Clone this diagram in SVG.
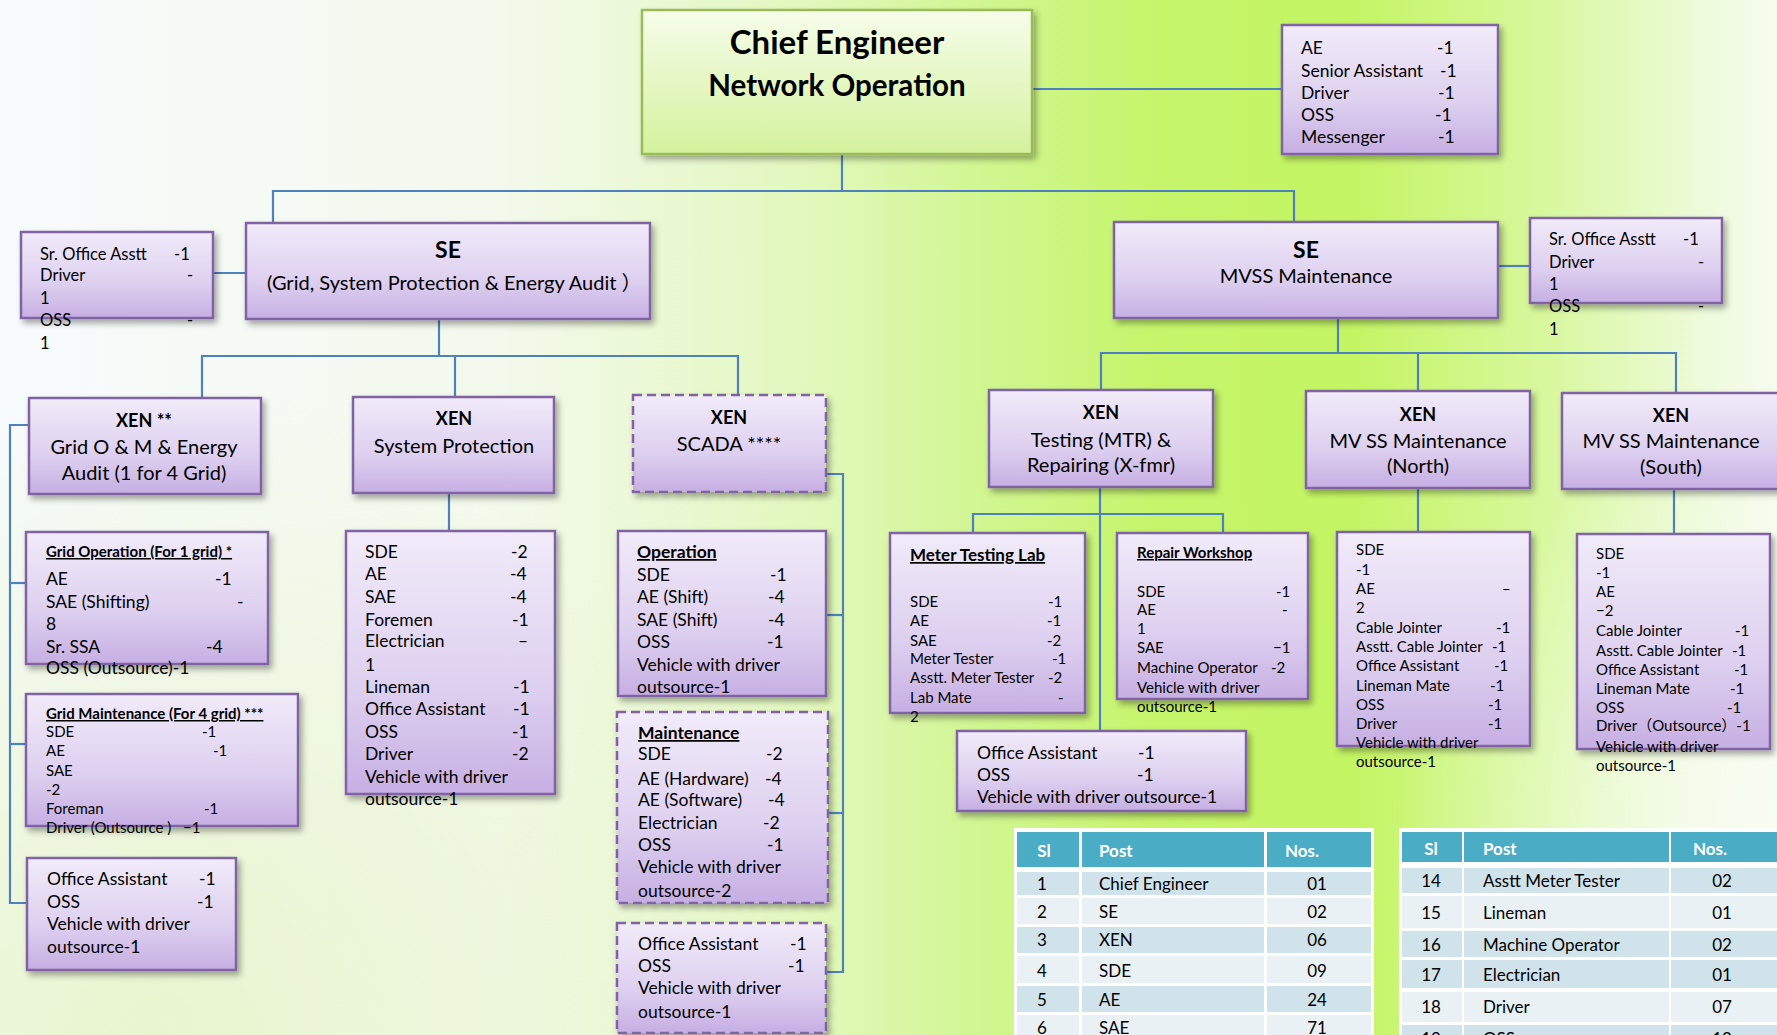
<svg xmlns="http://www.w3.org/2000/svg" width="1777" height="1035" viewBox="0 0 1777 1035">
<defs>
<linearGradient id="bg" x1="0" y1="0" x2="1777" y2="0" gradientUnits="userSpaceOnUse">
<stop offset="0" stop-color="#f7fbfd"/>
<stop offset="0.28" stop-color="#f3f9ec"/>
<stop offset="0.45" stop-color="#e3f8bf"/>
<stop offset="0.56" stop-color="#d0f68e"/>
<stop offset="0.65" stop-color="#c6f56b"/>
<stop offset="0.76" stop-color="#c4f563"/>
<stop offset="0.87" stop-color="#d8f89e"/>
<stop offset="0.96" stop-color="#eefbdc"/>
<stop offset="1" stop-color="#f6fcef"/>
</linearGradient>
<radialGradient id="bl" cx="150" cy="1035" r="650" gradientUnits="userSpaceOnUse">
<stop offset="0" stop-color="#e6f4c6" stop-opacity="0.85"/>
<stop offset="1" stop-color="#e6f4c6" stop-opacity="0"/>
</radialGradient>
<radialGradient id="br" cx="1777" cy="820" r="380" gradientUnits="userSpaceOnUse">
<stop offset="0" stop-color="#f8fcf2" stop-opacity="0.9"/>
<stop offset="1" stop-color="#f8fcf2" stop-opacity="0"/>
</radialGradient>
<linearGradient id="pg" x1="0" y1="0" x2="0" y2="1">
<stop offset="0" stop-color="#f1ebf9"/>
<stop offset="0.6" stop-color="#ddd0ef"/>
<stop offset="1" stop-color="#c6afe3"/>
</linearGradient>
<linearGradient id="gg" x1="0" y1="0" x2="0" y2="1">
<stop offset="0" stop-color="#f6fdeb"/>
<stop offset="1" stop-color="#d4f29c"/>
</linearGradient>
<filter id="sh" x="-10%" y="-10%" width="130%" height="140%">
<feDropShadow dx="3" dy="4" stdDeviation="3" flood-color="#000" flood-opacity="0.35"/>
</filter>
<style>
text{font-family:Lato,"Liberation Sans","Noto Sans CJK SC",sans-serif;fill:#000}
.b{font-weight:bold}
.u{text-decoration:underline}
.m{text-anchor:middle}
.box{fill:url(#pg);stroke:#8064a2;stroke-width:2.5;filter:url(#sh)}
.dash{stroke-dasharray:9 5}
.ce{fill:url(#gg);stroke:#9bbb59;stroke-width:2.5;filter:url(#sh)}
.c{stroke:#4f81bd;stroke-width:2.2;fill:none}
.th{fill:#4bacc6}
.rd{fill:#d0e3ea}
.rl{fill:#e9f1f5}
.tw{fill:#fff;font-weight:bold}
.s15{font-size:15px}
.s16{font-size:16.5px}
.s17{font-size:17.5px}
.s20{font-size:20px}
</style>
</defs>
<rect x="0" y="0" width="1777" height="1035" fill="url(#bg)"/>
<rect x="0" y="0" width="1777" height="1035" fill="url(#bl)"/>
<rect x="0" y="0" width="1777" height="1035" fill="url(#br)"/>

<g id="connectors">
<polyline class="c" points="1032,89 1282,89"/>
<polyline class="c" points="842,154 842,191"/>
<polyline class="c" points="273,223 273,191 1294,191 1294,222"/>
<polyline class="c" points="213,273 246,273"/>
<polyline class="c" points="439,319 439,356"/>
<polyline class="c" points="202,398 202,356 738,356 738,395"/>
<polyline class="c" points="455,356 455,397"/>
<polyline class="c" points="29,425 10,425 10,903 27,903"/>
<polyline class="c" points="10,583 26,583"/>
<polyline class="c" points="10,744 26,744"/>
<polyline class="c" points="449,493 449,531"/>
<polyline class="c" points="826,474 843,474 843,972 826,972"/>
<polyline class="c" points="826,615 843,615"/>
<polyline class="c" points="828,813 843,813"/>
<polyline class="c" points="1498,266 1530,266"/>
<polyline class="c" points="1338,318 1338,353"/>
<polyline class="c" points="1101,390 1101,353 1676,353 1676,393"/>
<polyline class="c" points="1418,353 1418,391"/>
<polyline class="c" points="1100,487 1100,731"/>
<polyline class="c" points="973,533 973,514 1223,514 1223,533"/>
<polyline class="c" points="1418,488 1418,532"/>
<polyline class="c" points="1674,489 1674,534"/>
</g>

<g id="chief-engineer">
<rect class="ce" x="642" y="10" width="390" height="144"/>
<text class="b m" x="837" y="54" font-size="33">Chief Engineer</text>
<text class="b m" x="837" y="96" font-size="29.5">Network Operation</text>
</g>

<g id="ce-staff" class="s17">
<rect class="box" x="1282" y="25" width="216" height="129"/>
<text x="1301" y="54">AE<tspan x="1437">-1</tspan></text>
<text x="1301" y="77">Senior Assistant<tspan x="1440">-1</tspan></text>
<text x="1301" y="99">Driver<tspan x="1438">-1</tspan></text>
<text x="1301" y="121">OSS<tspan x="1435">-1</tspan></text>
<text x="1301" y="143">Messenger<tspan x="1438">-1</tspan></text>
</g>

<g id="se-grid">
<rect class="box" x="246" y="223" width="404" height="96"/>
<text class="b m" x="448" y="258" font-size="23">SE</text>
<text x="267" y="290" class="s20">(Grid, System Protection &amp; Energy Audit ）</text>
</g>

<g id="se-grid-staff" class="s16">
<rect class="box" x="21" y="232" width="192" height="86"/>
<text x="40" y="260">Sr. Office Asstt<tspan x="174">-1</tspan></text>
<text x="40" y="281">Driver<tspan x="187">-</tspan></text>
<text x="40" y="304">1</text>
<text x="40" y="326">OSS<tspan x="187">-</tspan></text>
<text x="40" y="349">1</text>
</g>

<g id="xen-grid">
<rect class="box" x="29" y="398" width="232" height="96"/>
<text class="b m" x="144" y="427" font-size="18">XEN **</text>
<text class="m s20" x="144" y="454">Grid O &amp; M &amp; Energy</text>
<text class="m s20" x="144" y="480">Audit (1 for 4 Grid)</text>
</g>

<g id="xen-sysprot">
<rect class="box" x="353" y="397" width="201" height="96"/>
<text class="b m" x="454" y="425" font-size="18">XEN</text>
<text class="m s20" x="454" y="453">System Protection</text>
</g>

<g id="xen-scada">
<rect class="box dash" x="633" y="395" width="193" height="97"/>
<text class="b m" x="729" y="424" font-size="18">XEN</text>
<text class="m s20" x="729" y="451">SCADA ****</text>
</g>

<g id="grid-operation" class="s17">
<rect class="box" x="26" y="532" width="242" height="132"/>
<text class="b u s15" x="46" y="557">Grid Operation (For 1 grid) *</text>
<text x="46" y="585">AE<tspan x="215">-1</tspan></text>
<text x="46" y="608">SAE (Shifting)<tspan x="237">-</tspan></text>
<text x="46" y="630">8</text>
<text x="46" y="653">Sr. SSA<tspan x="206">-4</tspan></text>
<text x="46" y="674">OSS (Outsource)-1</text>
</g>

<g id="grid-maintenance" class="s15">
<rect class="box" x="26" y="694" width="272" height="132"/>
<text class="b u" x="46" y="719">Grid Maintenance (For 4 grid) ***</text>
<text x="46" y="737">SDE<tspan x="202">-1</tspan></text>
<text x="46" y="756">AE<tspan x="213">-1</tspan></text>
<text x="46" y="776">SAE</text>
<text x="46" y="795">-2</text>
<text x="46" y="814">Foreman<tspan x="204">-1</tspan></text>
<text x="46" y="833">Driver (Outsource )<tspan x="183">−1</tspan></text>
</g>

<g id="grid-office" class="s17">
<rect class="box" x="27" y="858" width="209" height="112"/>
<text x="47" y="885">Office Assistant<tspan x="199">-1</tspan></text>
<text x="47" y="908">OSS<tspan x="197">-1</tspan></text>
<text x="47" y="930">Vehicle with driver</text>
<text x="47" y="953">outsource-1</text>
</g>

<g id="sysprot-staff" class="s17">
<rect class="box" x="346" y="531" width="209" height="263"/>
<text x="365" y="558">SDE<tspan x="511">-2</tspan></text>
<text x="365" y="580">AE<tspan x="510">-4</tspan></text>
<text x="365" y="603">SAE<tspan x="510">-4</tspan></text>
<text x="365" y="626">Foremen<tspan x="512">-1</tspan></text>
<text x="365" y="647">Electrician<tspan x="518">–</tspan></text>
<text x="365" y="671">1</text>
<text x="365" y="693">Lineman<tspan x="513">-1</tspan></text>
<text x="365" y="715">Office Assistant<tspan x="513">-1</tspan></text>
<text x="365" y="738">OSS<tspan x="512">-1</tspan></text>
<text x="365" y="760">Driver<tspan x="512">-2</tspan></text>
<text x="365" y="783">Vehicle with driver</text>
<text x="365" y="805">outsource-1</text>
</g>

<g id="scada-operation" class="s17">
<rect class="box" x="618" y="531" width="208" height="165"/>
<text class="b u" x="637" y="558">Operation</text>
<text x="637" y="581">SDE<tspan x="770">-1</tspan></text>
<text x="637" y="603">AE (Shift)<tspan x="768">-4</tspan></text>
<text x="637" y="626">SAE (Shift)<tspan x="768">-4</tspan></text>
<text x="637" y="648">OSS<tspan x="767">-1</tspan></text>
<text x="637" y="671">Vehicle with driver</text>
<text x="637" y="693">outsource-1</text>
</g>

<g id="scada-maintenance" class="s17">
<rect class="box dash" x="617" y="712" width="211" height="191"/>
<text class="b u" x="638" y="739">Maintenance</text>
<text x="638" y="760">SDE<tspan x="766">-2</tspan></text>
<text x="638" y="785">AE (Hardware)<tspan x="765">-4</tspan></text>
<text x="638" y="806">AE (Software)<tspan x="768">-4</tspan></text>
<text x="638" y="829">Electrician<tspan x="763">-2</tspan></text>
<text x="638" y="851">OSS<tspan x="767">-1</tspan></text>
<text x="638" y="873">Vehicle with driver</text>
<text x="638" y="897">outsource-2</text>
</g>

<g id="scada-office" class="s17">
<rect class="box dash" x="617" y="923" width="209" height="110"/>
<text x="638" y="950">Office Assistant<tspan x="790">-1</tspan></text>
<text x="638" y="972">OSS<tspan x="788">-1</tspan></text>
<text x="638" y="994">Vehicle with driver</text>
<text x="638" y="1018">outsource-1</text>
</g>

<g id="se-mvss">
<rect class="box" x="1114" y="222" width="384" height="96"/>
<text class="b m" x="1306" y="258" font-size="23">SE</text>
<text class="m s20" x="1306" y="283">MVSS Maintenance</text>
</g>

<g id="se-mvss-staff" class="s16">
<rect class="box" x="1530" y="218" width="192" height="85"/>
<text x="1549" y="245">Sr. Office Asstt<tspan x="1683">-1</tspan></text>
<text x="1549" y="268">Driver<tspan x="1698">-</tspan></text>
<text x="1549" y="290">1</text>
<text x="1549" y="312">OSS<tspan x="1698">-</tspan></text>
<text x="1549" y="335">1</text>
</g>

<g id="xen-testing">
<rect class="box" x="989" y="390" width="224" height="97"/>
<text class="b m" x="1101" y="419" font-size="18">XEN</text>
<text class="m s20" x="1101" y="447">Testing (MTR) &amp;</text>
<text class="m s20" x="1101" y="472">Repairing (X-fmr)</text>
</g>

<g id="xen-north">
<rect class="box" x="1306" y="391" width="224" height="97"/>
<text class="b m" x="1418" y="421" font-size="18">XEN</text>
<text class="m s20" x="1418" y="448">MV SS Maintenance</text>
<text class="m s20" x="1418" y="473">(North)</text>
</g>

<g id="xen-south">
<rect class="box" x="1562" y="393" width="230" height="96"/>
<text class="b m" x="1671" y="422" font-size="18">XEN</text>
<text class="m s20" x="1671" y="448">MV SS Maintenance</text>
<text class="m s20" x="1671" y="474">(South)</text>
</g>

<g id="meter-testing-lab" class="s15">
<rect class="box" x="890" y="533" width="195" height="180"/>
<text class="b u" x="910" y="561" font-size="17">Meter Testing Lab</text>
<text x="910" y="607">SDE<tspan x="1048">-1</tspan></text>
<text x="910" y="626">AE<tspan x="1047">-1</tspan></text>
<text x="910" y="646">SAE<tspan x="1047">-2</tspan></text>
<text x="910" y="664">Meter Tester<tspan x="1052">-1</tspan></text>
<text x="910" y="683">Asstt. Meter Tester<tspan x="1048">-2</tspan></text>
<text x="910" y="703">Lab Mate<tspan x="1058">-</tspan></text>
<text x="910" y="722">2</text>
</g>

<g id="repair-workshop" class="s15">
<rect class="box" x="1117" y="533" width="191" height="166"/>
<text class="b u" x="1137" y="558">Repair Workshop</text>
<text x="1137" y="597">SDE<tspan x="1276">-1</tspan></text>
<text x="1137" y="615">AE<tspan x="1282">-</tspan></text>
<text x="1137" y="634">1</text>
<text x="1137" y="653">SAE<tspan x="1273">−1</tspan></text>
<text x="1137" y="673">Machine Operator<tspan x="1271">-2</tspan></text>
<text x="1137" y="693">Vehicle with driver</text>
<text x="1137" y="712">outsource-1</text>
</g>

<g id="testing-office" class="s17">
<rect class="box" x="957" y="731" width="289" height="80"/>
<text x="977" y="759">Office Assistant<tspan x="1138">-1</tspan></text>
<text x="977" y="781">OSS<tspan x="1137">-1</tspan></text>
<text x="977" y="803">Vehicle with driver outsource-1</text>
</g>

<g id="north-staff" class="s15">
<rect class="box" x="1337" y="532" width="193" height="214"/>
<text x="1356" y="555">SDE</text>
<text x="1356" y="575">-1</text>
<text x="1356" y="594">AE<tspan x="1502">–</tspan></text>
<text x="1356" y="613">2</text>
<text x="1356" y="633">Cable Jointer<tspan x="1496">-1</tspan></text>
<text x="1356" y="652">Asstt. Cable Jointer<tspan x="1492">-1</tspan></text>
<text x="1356" y="671">Office Assistant<tspan x="1494">-1</tspan></text>
<text x="1356" y="691">Lineman Mate<tspan x="1490">-1</tspan></text>
<text x="1356" y="710">OSS<tspan x="1488">-1</tspan></text>
<text x="1356" y="729">Driver<tspan x="1488">-1</tspan></text>
<text x="1356" y="748">Vehicle with driver</text>
<text x="1356" y="767">outsource-1</text>
</g>

<g id="south-staff" class="s15">
<rect class="box" x="1577" y="534" width="193" height="215"/>
<text x="1596" y="559">SDE</text>
<text x="1596" y="578">-1</text>
<text x="1596" y="597">AE</text>
<text x="1596" y="616">−2</text>
<text x="1596" y="636">Cable Jointer<tspan x="1735">-1</tspan></text>
<text x="1596" y="656">Asstt. Cable Jointer<tspan x="1732">-1</tspan></text>
<text x="1596" y="675">Office Assistant<tspan x="1734">-1</tspan></text>
<text x="1596" y="694">Lineman Mate<tspan x="1730">-1</tspan></text>
<text x="1596" y="713">OSS<tspan x="1727">-1</tspan></text>
<text x="1596" y="731">Driver（Outsource）-1</text>
<text x="1596" y="752">Vehicle with driver</text>
<text x="1596" y="771">outsource-1</text>
</g>

<g id="table-left" font-size="17">
<rect x="1014" y="828" width="360" height="210" fill="#fff"/>
<rect class="th" x="1017" y="832" width="62" height="35"/>
<rect class="th" x="1082" y="832" width="182" height="35"/>
<rect class="th" x="1267" y="832" width="104" height="35"/>
<text class="tw m" x="1044" y="857">Sl</text>
<text class="tw" x="1099" y="857">Post</text>
<text class="tw m" x="1302" y="857">Nos.</text>
<rect class="rd" x="1017" y="872" width="62" height="23"/><rect class="rd" x="1082" y="872" width="182" height="23"/><rect class="rd" x="1267" y="872" width="104" height="23"/>
<rect class="rl" x="1017" y="898" width="62" height="26"/><rect class="rl" x="1082" y="898" width="182" height="26"/><rect class="rl" x="1267" y="898" width="104" height="26"/>
<rect class="rd" x="1017" y="927" width="62" height="26"/><rect class="rd" x="1082" y="927" width="182" height="26"/><rect class="rd" x="1267" y="927" width="104" height="26"/>
<rect class="rl" x="1017" y="956" width="62" height="27"/><rect class="rl" x="1082" y="956" width="182" height="27"/><rect class="rl" x="1267" y="956" width="104" height="27"/>
<rect class="rd" x="1017" y="986" width="62" height="26"/><rect class="rd" x="1082" y="986" width="182" height="26"/><rect class="rd" x="1267" y="986" width="104" height="26"/>
<rect class="rl" x="1017" y="1015" width="62" height="30"/><rect class="rl" x="1082" y="1015" width="182" height="30"/><rect class="rl" x="1267" y="1015" width="104" height="30"/>
<text class="m" x="1042" y="890">1</text><text x="1099" y="890">Chief Engineer</text><text class="m" x="1317" y="890">01</text>
<text class="m" x="1042" y="918">2</text><text x="1099" y="918">SE</text><text class="m" x="1317" y="918">02</text>
<text class="m" x="1042" y="946">3</text><text x="1099" y="946">XEN</text><text class="m" x="1317" y="946">06</text>
<text class="m" x="1042" y="977">4</text><text x="1099" y="977">SDE</text><text class="m" x="1317" y="977">09</text>
<text class="m" x="1042" y="1006">5</text><text x="1099" y="1006">AE</text><text class="m" x="1317" y="1006">24</text>
<text class="m" x="1042" y="1034">6</text><text x="1099" y="1034">SAE</text><text class="m" x="1317" y="1034">71</text>
</g>

<g id="table-right" font-size="17">
<rect x="1399" y="828" width="378" height="210" fill="#fff"/>
<rect class="th" x="1402" y="832" width="60" height="30"/>
<rect class="th" x="1464" y="832" width="205" height="30"/>
<rect class="th" x="1671" y="832" width="106" height="30"/>
<text class="tw m" x="1431" y="855">Sl</text>
<text class="tw" x="1483" y="855">Post</text>
<text class="tw m" x="1710" y="855">Nos.</text>
<rect class="rd" x="1402" y="868" width="60" height="25"/><rect class="rd" x="1464" y="868" width="205" height="25"/><rect class="rd" x="1671" y="868" width="106" height="25"/>
<rect class="rl" x="1402" y="896" width="60" height="32"/><rect class="rl" x="1464" y="896" width="205" height="32"/><rect class="rl" x="1671" y="896" width="106" height="32"/>
<rect class="rd" x="1402" y="931" width="60" height="26"/><rect class="rd" x="1464" y="931" width="205" height="26"/><rect class="rd" x="1671" y="931" width="106" height="26"/>
<rect class="rd" x="1402" y="960" width="60" height="28"/><rect class="rd" x="1464" y="960" width="205" height="28"/><rect class="rd" x="1671" y="960" width="106" height="28"/>
<rect class="rl" x="1402" y="992" width="60" height="30"/><rect class="rl" x="1464" y="992" width="205" height="30"/><rect class="rl" x="1671" y="992" width="106" height="30"/>
<rect class="rd" x="1402" y="1025" width="60" height="25"/><rect class="rd" x="1464" y="1025" width="205" height="25"/><rect class="rd" x="1671" y="1025" width="106" height="25"/>
<text class="m" x="1431" y="887">14</text><text x="1483" y="887">Asstt Meter Tester</text><text class="m" x="1722" y="887">02</text>
<text class="m" x="1431" y="919">15</text><text x="1483" y="919">Lineman</text><text class="m" x="1722" y="919">01</text>
<text class="m" x="1431" y="951">16</text><text x="1483" y="951">Machine Operator</text><text class="m" x="1722" y="951">02</text>
<text class="m" x="1431" y="981">17</text><text x="1483" y="981">Electrician</text><text class="m" x="1722" y="981">01</text>
<text class="m" x="1431" y="1013">18</text><text x="1483" y="1013">Driver</text><text class="m" x="1722" y="1013">07</text>
<text class="m" x="1431" y="1045">19</text><text x="1483" y="1045">OSS</text><text class="m" x="1722" y="1045">12</text>
</g>
</svg>
